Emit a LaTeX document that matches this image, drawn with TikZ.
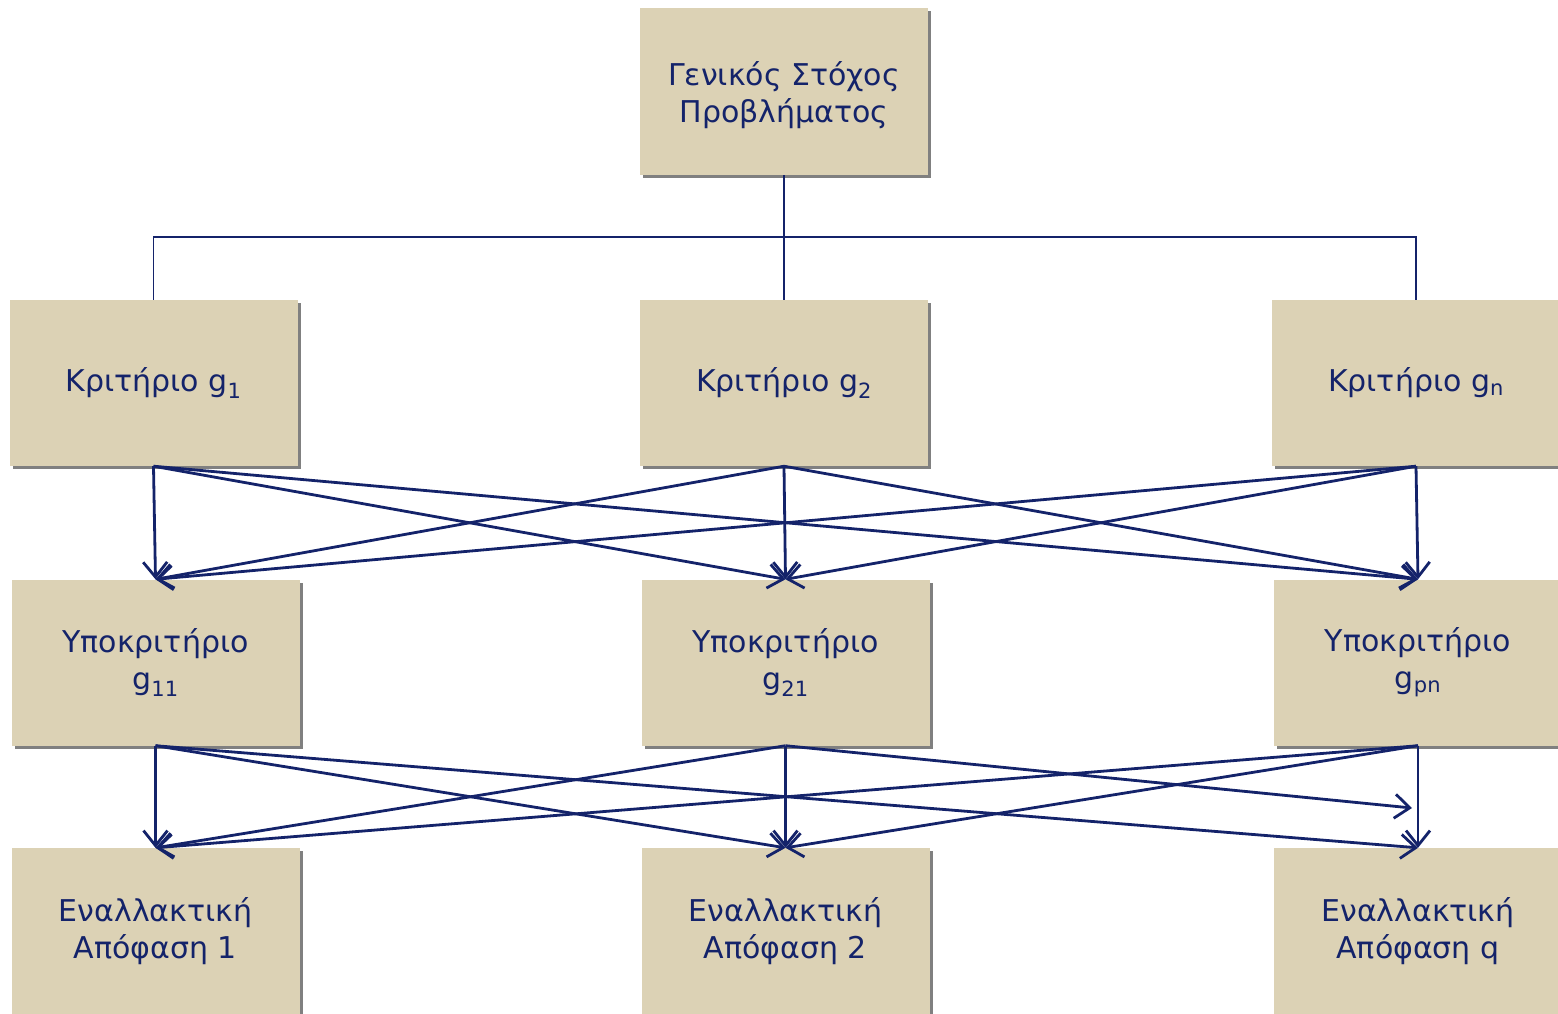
\documentclass[tikz,border=0pt]{standalone}
\usepackage{fontspec}
\setmainfont{DejaVu Sans}
\usetikzlibrary{arrows.meta,shadows}
\definecolor{boxfill}{HTML}{DCD2B5}
\definecolor{ink}{HTML}{14236A}
\definecolor{shade}{HTML}{808080}
\tikzset{
  box/.style={rectangle, fill=boxfill, minimum width=288pt, minimum height=166pt,
    inner sep=0pt, align=center, text=ink, font=\fontsize{30}{37}\selectfont,
    drop shadow={shadow xshift=3pt, shadow yshift=-3pt, fill=shade, opacity=1}},
  link/.style={draw=ink, line width=1.3pt},
  arr/.style={draw=ink, line width=2.8pt, -{Straight Barb[length=15pt,width=24pt,line width=2.8pt]}}
}
\begin{document}
\begin{tikzpicture}[x=1pt,y=-1pt]
\useasboundingbox (0,0) rectangle (1558,1013);
\node[box, minimum height=167pt] (top) at (784,91.5) {\\[-6pt]Γενικός Στόχος\\Προβλήματος};
\node[box] (c1) at (153.5,383) {Κριτήριο g\textsubscript{1}};
\node[box] (c2) at (784,383) {Κριτήριο g\textsubscript{2}};
\node[box] (c3) at (1416,383) {Κριτήριο g\textsubscript{n}};
\node[box] (s1) at (155.5,662.5) {Υποκριτήριο\\g\textsubscript{11}};
\node[box] (s2) at (785.5,662.5) {Υποκριτήριο\\g\textsubscript{21}};
\node[box] (s3) at (1418,662.5) {Υποκριτήριο\\g\textsubscript{pn}};
\node[box] (a1) at (155.5,931) {Εναλλακτική\\Απόφαση 1};
\node[box] (a2) at (785.5,931) {Εναλλακτική\\Απόφαση 2};
\node[box] (a3) at (1418,931) {Εναλλακτική\\Απόφαση q};
\coordinate (mid) at (1412,808);
% tree connectors
\draw[link] (top.south) -- (784,237) coordinate (j);
\draw[link] (c1.north) |- (j) -| (c3.north);
\draw[link] (j) -- (c2.north);
% criteria to subcriteria
\foreach \s in {c1,c2,c3}{
  \foreach \t in {s1,s2,s3}{
    \draw[arr] (\s.south) -- (\t.north);
  }
}
% subcriteria to alternatives
\draw[arr] (s1.south) -- (a1.north);
\draw[arr] (s1.south) -- (a2.north);
\draw[arr] (s1.south) -- (a3.north);
\draw[arr] (s2.south) -- (a1.north);
\draw[arr] (s2.south) -- (a2.north);
\draw[arr] (s2.south) -- (mid);
\draw[arr] (s3.south) -- (a1.north);
\draw[arr] (s3.south) -- (a2.north);
\draw[arr] (s3.south) -- (a3.north);
\end{tikzpicture}
\end{document}
